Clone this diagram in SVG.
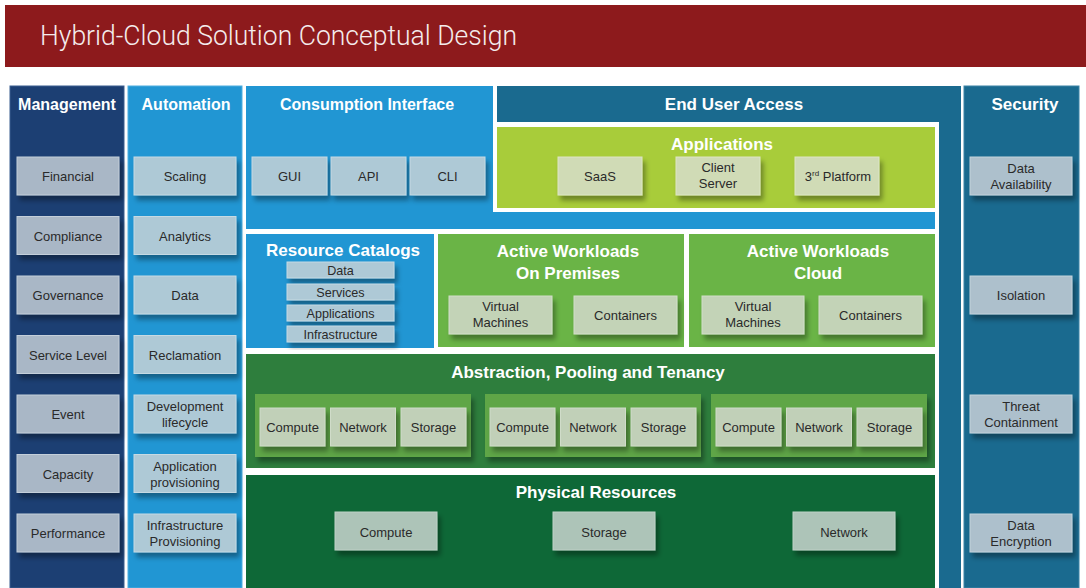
<svg xmlns="http://www.w3.org/2000/svg" width="1086" height="588" viewBox="0 0 1086 588">
<defs>
<filter id="sh" x="-20%" y="-30%" width="150%" height="180%">
<feDropShadow dx="3" dy="5" stdDeviation="2.5" flood-color="#000" flood-opacity="0.35"/>
</filter>
<style>
.hd{font-family:"Liberation Sans",Arial,sans-serif;font-weight:bold;font-size:16px;fill:#fff;text-anchor:middle}
.hd17{font-family:"Liberation Sans",Arial,sans-serif;font-weight:bold;font-size:17px;fill:#fff;text-anchor:middle}
.t{font-family:"Liberation Sans",Arial,sans-serif;font-size:13px;fill:#2a2a2a;text-anchor:middle}
.ts{font-family:"Liberation Sans",Arial,sans-serif;font-size:12.6px;fill:#2a2a2a;text-anchor:middle}
.bm{fill:#A9B7C6;stroke:#C4CFDA;stroke-width:1;filter:url(#sh)}
.ba{fill:#AEC9D6;stroke:#C6DAE3;stroke-width:1;filter:url(#sh)}
.bs{fill:#ADC0CC;stroke:#C4D3DC;stroke-width:1;filter:url(#sh)}
.bl{fill:#AEC9D6;stroke:#C6DAE3;stroke-width:1;filter:url(#sh)}
.bap{fill:#D0DBB6;stroke:#DDE6C6;stroke-width:1;filter:url(#sh)}
.bw{fill:#C3D3B7;stroke:#D2DECA;stroke-width:1;filter:url(#sh)}
.bg{fill:#5FA647;filter:url(#sh)}
.bab{fill:#C1D0B8;stroke:#D0DCC9;stroke-width:1;filter:url(#sh)}
.bp{fill:#ADC4B8;stroke:#BFD1C7;stroke-width:1;filter:url(#sh)}
</style>
</defs>
<rect x="0" y="0" width="1086" height="588" fill="#fff"/>

<g id="title">
<rect x="5" y="5" width="1081" height="62" fill="#8D1A1C"/>
<text x="40" y="45" textLength="477" lengthAdjust="spacingAndGlyphs" style="font-family:Roboto,'Liberation Sans',Arial,sans-serif;font-weight:300;font-size:27px;fill:#F4ECEC">Hybrid-Cloud Solution Conceptual Design</text>
</g>

<g id="management">
<rect x="10" y="86" width="114" height="502" fill="#1C3F73" stroke="#3A5E8F" stroke-width="1"/>
<text class="hd" x="67" y="110">Management</text>
<rect class="bm" x="17" y="157" width="102" height="38"/><text class="t" x="68" y="181">Financial</text>
<rect class="bm" x="17" y="216.5" width="102" height="38"/><text class="t" x="68" y="240.5">Compliance</text>
<rect class="bm" x="17" y="276" width="102" height="38"/><text class="t" x="68" y="300">Governance</text>
<rect class="bm" x="17" y="335.5" width="102" height="38"/><text class="t" x="68" y="359.5">Service Level</text>
<rect class="bm" x="17" y="395" width="102" height="38"/><text class="t" x="68" y="419">Event</text>
<rect class="bm" x="17" y="454.5" width="102" height="38"/><text class="t" x="68" y="478.5">Capacity</text>
<rect class="bm" x="17" y="514" width="102" height="38"/><text class="t" x="68" y="538">Performance</text>
</g>

<g id="automation">
<rect x="128" y="86" width="114" height="502" fill="#2196D3" stroke="#4FAEE0" stroke-width="1"/>
<text class="hd" x="186" y="110">Automation</text>
<rect class="ba" x="134" y="157" width="102" height="38"/><text class="t" x="185" y="181">Scaling</text>
<rect class="ba" x="134" y="216.5" width="102" height="38"/><text class="t" x="185" y="240.5">Analytics</text>
<rect class="ba" x="134" y="276" width="102" height="38"/><text class="t" x="185" y="300">Data</text>
<rect class="ba" x="134" y="335.5" width="102" height="38"/><text class="t" x="185" y="359.5">Reclamation</text>
<rect class="ba" x="134" y="395" width="102" height="38"/><text class="t" x="185" y="411">Development</text><text class="t" x="185" y="427">lifecycle</text>
<rect class="ba" x="134" y="454.5" width="102" height="38"/><text class="t" x="185" y="470.5">Application</text><text class="t" x="185" y="486.5">provisioning</text>
<rect class="ba" x="134" y="514" width="102" height="38"/><text class="t" x="185" y="530">Infrastructure</text><text class="t" x="185" y="546">Provisioning</text>
</g>

<g id="end-user-access">
<rect x="497" y="86" width="464" height="502" fill="#1A6A8F"/>
<text class="hd17" x="734" y="110">End User Access</text>
<rect x="493" y="122" width="446" height="466" fill="#fff"/>
</g>

<g id="security">
<rect x="964" y="86" width="115" height="502" fill="#1A6A8F" stroke="#3C84A6" stroke-width="1"/>
<text class="hd17" x="1025" y="110">Security</text>
<rect class="bs" x="970" y="157" width="102" height="38"/><text class="t" x="1021" y="173">Data</text><text class="t" x="1021" y="189">Availability</text>
<rect class="bs" x="970" y="276" width="102" height="38"/><text class="t" x="1021" y="300">Isolation</text>
<rect class="bs" x="970" y="395" width="102" height="38"/><text class="t" x="1021" y="411">Threat</text><text class="t" x="1021" y="427">Containment</text>
<rect class="bs" x="970" y="514" width="102" height="38"/><text class="t" x="1021" y="530">Data</text><text class="t" x="1021" y="546">Encryption</text>
</g>

<g id="consumption-interface">
<rect x="246" y="86" width="247" height="143" fill="#2196D3"/>
<rect x="493" y="212" width="442" height="17" fill="#2196D3"/>
<text class="hd" x="367" y="110">Consumption Interface</text>
<rect class="bl" x="252" y="157" width="75" height="38"/><text class="t" x="289.5" y="181">GUI</text>
<rect class="bl" x="331" y="157" width="75" height="38"/><text class="t" x="368.5" y="181">API</text>
<rect class="bl" x="410" y="157" width="75" height="38"/><text class="t" x="447.5" y="181">CLI</text>
</g>

<g id="applications">
<rect x="497" y="127" width="438" height="81" fill="#A8CC3A"/>
<text class="hd17" x="722" y="150">Applications</text>
<rect class="bap" x="558" y="157" width="84" height="38"/><text class="t" x="600" y="181">SaaS</text>
<rect class="bap" x="676" y="157" width="84" height="38"/><text class="t" x="718" y="172">Client</text><text class="t" x="718" y="188">Server</text>
<rect class="bap" x="795" y="157" width="84" height="38"/><text class="t" x="838" y="181">3<tspan font-size="8" dy="-5">rd</tspan><tspan dy="5"> Platform</tspan></text>
</g>

<g id="resource-catalogs">
<rect x="246" y="234" width="188" height="114" fill="#2196D3"/>
<text class="hd17" x="343" y="256">Resource Catalogs</text>
<rect class="bl" x="287" y="262" width="107" height="16"/><text class="ts" x="340.5" y="275">Data</text>
<rect class="bl" x="287" y="284" width="107" height="16"/><text class="ts" x="340.5" y="297">Services</text>
<rect class="bl" x="287" y="305" width="107" height="16"/><text class="ts" x="340.5" y="318">Applications</text>
<rect class="bl" x="287" y="326" width="107" height="16"/><text class="ts" x="340.5" y="339">Infrastructure</text>
</g>

<g id="workloads-on-premises">
<rect x="438" y="234" width="246" height="113" fill="#6AB446"/>
<text class="hd17" x="568" y="257">Active Workloads</text>
<text class="hd17" x="568" y="279">On Premises</text>
<rect class="bw" x="449" y="296" width="103" height="38"/><text class="t" x="500.5" y="311">Virtual</text><text class="t" x="500.5" y="327">Machines</text>
<rect class="bw" x="574" y="296" width="103" height="38"/><text class="t" x="625.5" y="320">Containers</text>
</g>

<g id="workloads-cloud">
<rect x="689" y="234" width="246" height="113" fill="#6AB446"/>
<text class="hd17" x="818" y="257">Active Workloads</text>
<text class="hd17" x="818" y="279">Cloud</text>
<rect class="bw" x="702" y="296" width="102" height="38"/><text class="t" x="753" y="311">Virtual</text><text class="t" x="753" y="327">Machines</text>
<rect class="bw" x="819" y="296" width="103" height="38"/><text class="t" x="870.5" y="320">Containers</text>
</g>

<g id="abstraction">
<rect x="246" y="354" width="689" height="114" fill="#2E7E3D"/>
<text class="hd17" x="588" y="378">Abstraction, Pooling and Tenancy</text>
<rect class="bg" x="255" y="394" width="216" height="63"/>
<rect class="bab" x="260" y="408" width="65" height="38"/><text class="t" x="292.5" y="432">Compute</text>
<rect class="bab" x="330.5" y="408" width="65" height="38"/><text class="t" x="363" y="432">Network</text>
<rect class="bab" x="401" y="408" width="65" height="38"/><text class="t" x="433.5" y="432">Storage</text>
<rect class="bg" x="485" y="394" width="216" height="63"/>
<rect class="bab" x="490" y="408" width="65" height="38"/><text class="t" x="522.5" y="432">Compute</text>
<rect class="bab" x="560.5" y="408" width="65" height="38"/><text class="t" x="593" y="432">Network</text>
<rect class="bab" x="631" y="408" width="65" height="38"/><text class="t" x="663.5" y="432">Storage</text>
<rect class="bg" x="711" y="394" width="216" height="63"/>
<rect class="bab" x="716" y="408" width="65" height="38"/><text class="t" x="748.5" y="432">Compute</text>
<rect class="bab" x="786.5" y="408" width="65" height="38"/><text class="t" x="819" y="432">Network</text>
<rect class="bab" x="857" y="408" width="65" height="38"/><text class="t" x="889.5" y="432">Storage</text>
</g>

<g id="physical-resources">
<rect x="246" y="475" width="689" height="113" fill="#0E6837"/>
<text class="hd17" x="596" y="498">Physical Resources</text>
<rect class="bp" x="335" y="512" width="102" height="38"/><text class="t" x="386" y="537">Compute</text>
<rect class="bp" x="553" y="512" width="102" height="38"/><text class="t" x="604" y="537">Storage</text>
<rect class="bp" x="793" y="512" width="102" height="38"/><text class="t" x="844" y="537">Network</text>
</g>

<g id="connectors"/>
</svg>
